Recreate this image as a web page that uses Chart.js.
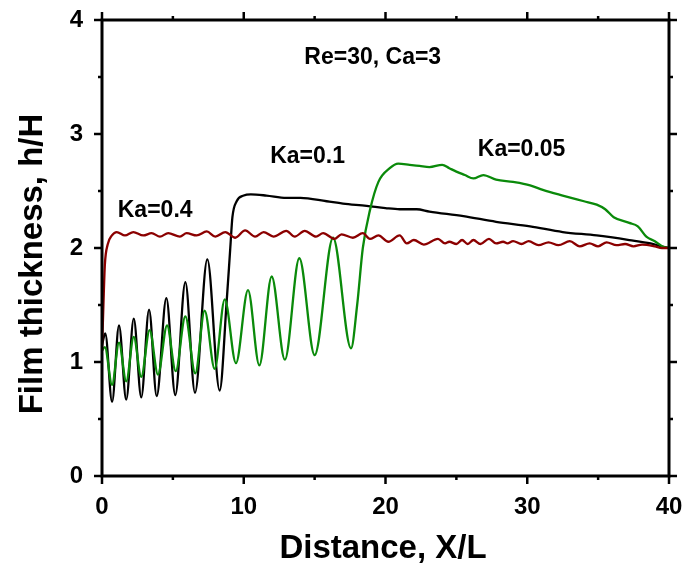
<!DOCTYPE html>
<html>
<head>
<meta charset="utf-8">
<script src="https://cdn.jsdelivr.net/npm/chart.js@4/dist/chart.umd.min.js"></script>
<style>
  body { margin: 0; background: #fff; }
  canvas { display: block; }
</style>
</head>
<body>
<canvas id="film" width="682" height="572"></canvas>
<script>
// values (x = X/L, y = h/H)
var xKa01 = [0, 0.23, 0.71, 1.2, 1.71, 2.24, 2.77, 3.32, 3.86, 4.54, 5.17, 5.88, 6.56, 7.43, 8.3, 8.8, 9.05, 9.2, 9.5, 10.0, 10.5, 11.6, 13.0, 14.0, 15.85, 17.0, 18.67, 20.0, 21.0, 22.2, 23.1, 25.5, 27.8, 30.2, 32.5, 34.9, 37.2, 38.7, 39.6, 40];
var yKa01 = [1.15, 1.25, 0.65, 1.32, 0.67, 1.38, 0.69, 1.46, 0.70, 1.56, 0.71, 1.70, 0.73, 1.90, 0.75, 1.54, 2.0, 2.27, 2.41, 2.46, 2.47, 2.46, 2.44, 2.44, 2.41, 2.39, 2.37, 2.35, 2.34, 2.34, 2.32, 2.28, 2.23, 2.19, 2.14, 2.11, 2.07, 2.04, 2.01, 2.0];

var xKa005 = [0, 0.2, 0.71, 1.2, 1.71, 2.24, 2.77, 3.36, 3.95, 4.59, 5.2, 5.88, 6.58, 7.24, 7.95, 8.66, 9.45, 10.3, 11.1, 11.97, 12.9, 13.92, 15.0, 16.3, 17.57, 18.0, 18.4, 18.9, 19.5, 20.3, 20.9, 21.7, 22.4, 23.1, 24.0, 24.5, 25.0, 25.6, 26.2, 26.9, 27.8, 29.0, 30.2, 31.1, 32.5, 34.0, 34.9, 35.5, 36.1, 37.2, 37.8, 38.4, 39.0, 39.6, 40];
var yKa005 = [1.1, 1.13, 0.80, 1.17, 0.83, 1.22, 0.87, 1.28, 0.89, 1.32, 0.92, 1.40, 0.90, 1.45, 0.94, 1.55, 0.99, 1.63, 0.97, 1.75, 1.02, 1.91, 1.06, 2.09, 1.12, 1.5, 2.0, 2.33, 2.58, 2.70, 2.74, 2.73, 2.72, 2.71, 2.73, 2.70, 2.67, 2.64, 2.61, 2.64, 2.60, 2.58, 2.55, 2.51, 2.46, 2.41, 2.38, 2.34, 2.27, 2.22, 2.19, 2.10, 2.06, 2.01, 2.0];

var xKa04 = [0, 0.1, 0.2, 0.4, 0.7, 1.04, 1.62, 2.21, 2.91, 3.5, 4.09, 4.67, 5.5, 5.97, 6.68, 7.39, 8.0, 8.7, 9.4, 10.1, 10.8, 11.4, 12.1, 13.0, 13.6, 14.3, 15.1, 15.6, 16.4, 16.9, 17.7, 18.4, 18.9, 19.5, 20.2, 21.0, 21.5, 22.0, 22.7, 23.7, 24.2, 24.5, 25.0, 25.4, 25.8, 26.2, 26.7, 27.3, 27.8, 28.3, 28.6, 29.0, 29.6, 30.1, 30.8, 31.5, 32.2, 33.0, 33.7, 34.4, 35.0, 35.6, 36.3, 36.9, 37.5, 38.1, 39.0, 39.5, 40];
var yKa04 = [1.1, 1.5, 1.85, 2.03, 2.11, 2.14, 2.11, 2.14, 2.11, 2.13, 2.10, 2.13, 2.10, 2.13, 2.11, 2.145, 2.10, 2.14, 2.09, 2.155, 2.10, 2.14, 2.10, 2.15, 2.10, 2.15, 2.10, 2.13, 2.08, 2.12, 2.09, 2.13, 2.08, 2.11, 2.055, 2.11, 2.04, 2.07, 2.03, 2.08, 2.04, 2.055, 2.035, 2.07, 2.035, 2.07, 2.035, 2.08, 2.04, 2.055, 2.04, 2.06, 2.035, 2.06, 2.025, 2.05, 2.025, 2.06, 2.015, 2.04, 2.015, 2.05, 2.025, 2.035, 2.015, 2.03, 2.015, 2.0, 2.0];

var xTicks = [0, 10, 20, 30, 40];
var yTicks = [0, 1, 2, 3, 4];
var labels = [
  { text: 'Re=30, Ca=3', x: 19.1, y: 3.67 },
  { text: 'Ka=0.4', x: 3.75, y: 2.33 },
  { text: 'Ka=0.1', x: 14.5, y: 2.8 },
  { text: 'Ka=0.05', x: 29.6, y: 2.86 }
];

var FONT = '"Liberation Sans", Arial, sans-serif';

function pts(xs, ys) {
  return xs.map(function (x, i) { return { x: x, y: ys[i] }; });
}

// frame, outward ticks, axis titles and the text labels
var decor = {
  id: 'decor',
  afterDraw: function (chart) {
    var c = chart.ctx, a = chart.chartArea;
    var sx = chart.scales.x, sy = chart.scales.y;
    c.save();
    c.strokeStyle = '#000';
    c.lineWidth = 3;
    c.strokeRect(a.left, a.top, a.right - a.left, a.bottom - a.top);

    c.lineWidth = 2.5;
    for (var v = 0; v <= 40; v += 5) {
      var px = sx.getPixelForValue(v);
      var len = (v % 10 === 0) ? 8 : 4;
      c.beginPath();
      c.moveTo(px, a.bottom); c.lineTo(px, a.bottom + len);
      c.moveTo(px, a.top); c.lineTo(px, a.top - len);
      c.stroke();
    }
    for (var w = 0; w <= 4; w += 0.5) {
      var py = sy.getPixelForValue(w);
      var l2 = (w % 1 === 0) ? 8 : 4;
      c.beginPath();
      c.moveTo(a.left, py); c.lineTo(a.left - l2, py);
      c.moveTo(a.right, py); c.lineTo(a.right + l2, py);
      c.stroke();
    }

    c.fillStyle = '#000';
    c.textAlign = 'center';
    c.textBaseline = 'middle';
    c.font = 'bold 33px ' + FONT;
    c.fillText('Distance, X/L', 383, 549);
    c.save();
    c.translate(33, 264);
    c.rotate(-Math.PI / 2);
    c.fillText('Film thickness, h/H', 0, 0);
    c.restore();

    c.font = 'bold 23px ' + FONT;
    labels.forEach(function (t) {
      c.fillText(t.text, sx.getPixelForValue(t.x), sy.getPixelForValue(t.y));
    });
    c.restore();
  }
};

var ctx = document.getElementById('film').getContext('2d');
new Chart(ctx, {
  type: 'line',
  data: {
    datasets: [
      { label: 'Ka=0.4', data: pts(xKa04, yKa04), borderColor: '#8B0000' },
      { label: 'Ka=0.05', data: pts(xKa005, yKa005), borderColor: '#0A8A0A' },
      { label: 'Ka=0.1', data: pts(xKa01, yKa01), borderColor: '#000000' }
    ]
  },
  options: {
    responsive: false,
    animation: false,
    devicePixelRatio: 1,
    layout: { padding: { top: 20, right: 13, left: 0, bottom: 0 } },
    elements: {
      point: { radius: 0 },
      line: { borderWidth: 2.3, cubicInterpolationMode: 'monotone', fill: false }
    },
    plugins: { legend: { display: false }, tooltip: { enabled: false } },
    scales: {
      x: {
        type: 'linear', min: 0, max: 40,
        afterBuildTicks: function (s) { s.ticks = xTicks.map(function (v) { return { value: v }; }); },
        afterFit: function (s) { s.height = 96; s.paddingLeft = 0; s.paddingRight = 0; },
        grid: { display: false }, border: { display: false },
        ticks: { color: '#000', padding: 9, font: { family: FONT, size: 24, weight: 'bold' } }
      },
      y: {
        type: 'linear', min: 0, max: 4,
        afterBuildTicks: function (s) { s.ticks = yTicks.map(function (v) { return { value: v }; }); },
        afterFit: function (s) { s.width = 102; s.paddingTop = 0; s.paddingBottom = 0; },
        grid: { display: false }, border: { display: false },
        ticks: { color: '#000', padding: 11, font: { family: FONT, size: 24, weight: 'bold' } }
      }
    }
  },
  plugins: [decor]
});
</script>
</body>
</html>
